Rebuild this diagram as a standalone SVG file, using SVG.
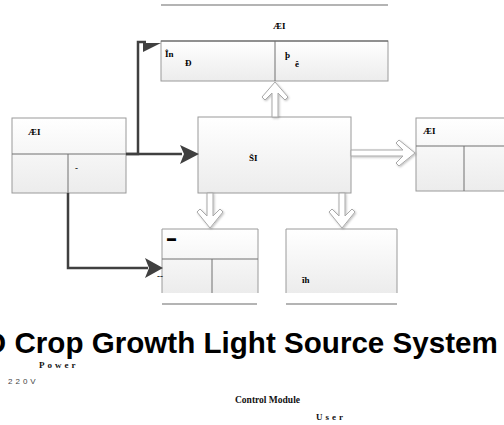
<svg xmlns="http://www.w3.org/2000/svg" width="504" height="425" viewBox="0 0 504 425">
<defs>
<linearGradient id="g" x1="0" y1="0" x2="0" y2="1">
<stop offset="0" stop-color="#ffffff"/>
<stop offset="1" stop-color="#ececec"/>
</linearGradient>
<filter id="sh" x="-30%" y="-30%" width="160%" height="160%">
<feDropShadow dx="1" dy="1" stdDeviation="1" flood-color="#000" flood-opacity="0.25"/>
</filter>
</defs>
<style>
.box{fill:url(#g);stroke:#9a9a9a;stroke-width:1}
.div{stroke:#707070;stroke-width:1;fill:none}
.rule{stroke:#6a6a6a;stroke-width:1.2;fill:none}
.lbl{font-family:"Liberation Serif",serif;font-weight:bold;font-size:9px;fill:#000}
.conn{stroke:#404040;stroke-width:2.5;fill:none}
.head{fill:#404040}
.hollow{fill:#ffffff;stroke:#a8a8a8;stroke-width:1;filter:url(#sh)}
.title{font-family:"Liberation Sans",Arial,sans-serif;font-weight:bold;font-size:29.6px;fill:#000}
.cap{font-family:"Liberation Serif",serif;font-weight:bold;fill:#111}
.sans{font-family:"Liberation Sans",Arial,sans-serif;fill:#444}
</style>
<rect width="504" height="425" fill="#ffffff"/>

<g id="top-rule">
<line class="rule" x1="161" y1="5" x2="388" y2="5"/>
<text class="lbl" x="273" y="29">ÆI</text>
</g>

<g id="top-node">
<rect class="box" x="161" y="41" width="227" height="40"/>
<line x1="161" y1="41" x2="388" y2="41" stroke="#555" stroke-width="1.2"/>
<line class="div" x1="275" y1="41" x2="275" y2="81"/>
<text class="lbl" x="165" y="57">În</text>
<text class="lbl" x="185" y="66">Ð</text>
<text class="lbl" x="285" y="58">þ</text>
<text class="lbl" x="295" y="67">ê</text>
</g>

<g id="left-node">
<rect class="box" x="12" y="118" width="114" height="75"/>
<line class="div" x1="12" y1="154" x2="126" y2="154"/>
<line class="div" x1="68" y1="154" x2="68" y2="193"/>
<text class="lbl" x="28" y="135">ÆI</text>
<text class="lbl" x="75" y="171">-</text>
</g>

<g id="center-node">
<rect class="box" x="198" y="117" width="153" height="76"/>
<text class="lbl" x="249" y="161">ŠI</text>
</g>

<g id="right-node">
<rect class="box" x="416" y="118" width="110" height="73"/>
<line class="div" x1="416" y1="146" x2="526" y2="146"/>
<line class="div" x1="464" y1="146" x2="464" y2="191"/>
<text class="lbl" x="423" y="134">ÆI</text>
</g>

<g id="bottom-left-node">
<path class="box" d="M162,293 V229 H258 V293"/>
<line class="div" x1="162" y1="259" x2="258" y2="259"/>
<line class="div" x1="212" y1="259" x2="212" y2="293"/>
<line class="rule" x1="162" y1="304" x2="257" y2="304"/>
<text class="lbl" x="167" y="241">▬</text>
<text class="lbl" x="157" y="279" font-size="6">--</text>
</g>

<g id="bottom-right-node">
<path class="box" d="M286,293 V229 H397 V293"/>
<line class="rule" x1="286" y1="304" x2="397" y2="304"/>
<text class="lbl" x="302" y="283">ĩh</text>
</g>

<g id="connectors">
<polyline class="conn" points="126,154 182,154"/>
<polygon class="head" points="180,145 199,154 180,164 184,154"/>
<polyline class="conn" points="126,154 138,154 138,42 146,42"/>
<polygon class="head" points="143,43 161,43 143,52"/>
<polyline class="conn" points="68,193 68,268 148,268"/>
<polygon class="head" points="145,258 163,268 145,278 149,268"/>
<polygon class="hollow" points="272,117 272,93 265,100 262,97 275,82 288,97 285,100 278,93 278,117"/>
<polygon class="hollow" points="351,150 403,150 396,143 399,140 415,153 399,166 396,163 403,156 351,156"/>
<polygon class="hollow" points="207,193 207,216 200,209 197,212 210,228 223,212 220,209 213,216 213,193"/>
<polygon class="hollow" points="339,193 339,216 332,209 329,212 342,228 355,212 352,209 345,216 345,193"/>
</g>

<g id="captions">
<text class="title" x="-53" y="353">LED Crop Growth Light Source System Diagram</text>
<text class="cap" x="39" y="368" font-size="9" letter-spacing="3">Power</text>
<text class="sans" x="8" y="384" font-size="8" letter-spacing="3">220V</text>
<text class="cap" x="235" y="403" font-size="9.5">Control Module</text>
<text class="cap" x="316" y="420" font-size="9" letter-spacing="3">User</text>
</g>
</svg>
